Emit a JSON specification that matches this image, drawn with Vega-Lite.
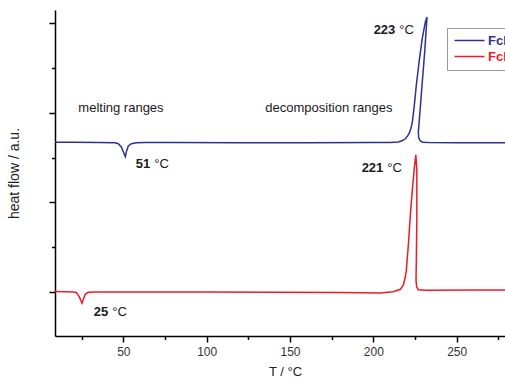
{
  "$schema": "https://vega.github.io/schema/vega-lite/v6.json",
  "autosize": "none",
  "padding": {"left": 55, "top": 10, "right": 0, "bottom": 47},
  "width": 460,
  "height": 326,
  "config": {"view": {"stroke": null}, "font": "Liberation Sans"},
  "datasets": {
    "curves": [
      {"s": "FcI (1)", "i": 1, "T": 9, "v": 3.345},
      {"s": "FcI (1)", "i": 2, "T": 20, "v": 3.345},
      {"s": "FcI (1)", "i": 3, "T": 35, "v": 3.34},
      {"s": "FcI (1)", "i": 4, "T": 45, "v": 3.33},
      {"s": "FcI (1)", "i": 5, "T": 47, "v": 3.31},
      {"s": "FcI (1)", "i": 6, "T": 48.8, "v": 3.24},
      {"s": "FcI (1)", "i": 7, "T": 50, "v": 3.13},
      {"s": "FcI (1)", "i": 8, "T": 51.2, "v": 3.02},
      {"s": "FcI (1)", "i": 9, "T": 51.8, "v": 3.13},
      {"s": "FcI (1)", "i": 10, "T": 53, "v": 3.26},
      {"s": "FcI (1)", "i": 11, "T": 54.8, "v": 3.31},
      {"s": "FcI (1)", "i": 12, "T": 58, "v": 3.33},
      {"s": "FcI (1)", "i": 13, "T": 63, "v": 3.335},
      {"s": "FcI (1)", "i": 14, "T": 80, "v": 3.335},
      {"s": "FcI (1)", "i": 15, "T": 120, "v": 3.33},
      {"s": "FcI (1)", "i": 16, "T": 160, "v": 3.33},
      {"s": "FcI (1)", "i": 17, "T": 200, "v": 3.335},
      {"s": "FcI (1)", "i": 18, "T": 210, "v": 3.34},
      {"s": "FcI (1)", "i": 19, "T": 215, "v": 3.35},
      {"s": "FcI (1)", "i": 20, "T": 217.5, "v": 3.38},
      {"s": "FcI (1)", "i": 21, "T": 219.2, "v": 3.42},
      {"s": "FcI (1)", "i": 22, "T": 220.5, "v": 3.48},
      {"s": "FcI (1)", "i": 23, "T": 221.6, "v": 3.55},
      {"s": "FcI (1)", "i": 24, "T": 222.6, "v": 3.66},
      {"s": "FcI (1)", "i": 25, "T": 223.4, "v": 3.79},
      {"s": "FcI (1)", "i": 26, "T": 224.6, "v": 4.17},
      {"s": "FcI (1)", "i": 27, "T": 225.8, "v": 4.62},
      {"s": "FcI (1)", "i": 28, "T": 227.6, "v": 5.18},
      {"s": "FcI (1)", "i": 29, "T": 229.4, "v": 5.67},
      {"s": "FcI (1)", "i": 30, "T": 231.2, "v": 6.03},
      {"s": "FcI (1)", "i": 31, "T": 232.2, "v": 6.14},
      {"s": "FcI (1)", "i": 32, "T": 230.9, "v": 5.4},
      {"s": "FcI (1)", "i": 33, "T": 229.0, "v": 4.51},
      {"s": "FcI (1)", "i": 34, "T": 227.6, "v": 3.84},
      {"s": "FcI (1)", "i": 35, "T": 227.0, "v": 3.57},
      {"s": "FcI (1)", "i": 36, "T": 227.2, "v": 3.45},
      {"s": "FcI (1)", "i": 37, "T": 228.0, "v": 3.38},
      {"s": "FcI (1)", "i": 38, "T": 229.5, "v": 3.345},
      {"s": "FcI (1)", "i": 39, "T": 233, "v": 3.335},
      {"s": "FcI (1)", "i": 40, "T": 250, "v": 3.33},
      {"s": "FcI (1)", "i": 41, "T": 285, "v": 3.33},
      {"s": "FcI (2)", "i": 1, "T": 9, "v": 0.01},
      {"s": "FcI (2)", "i": 2, "T": 15, "v": 0.005},
      {"s": "FcI (2)", "i": 3, "T": 20, "v": 0.0},
      {"s": "FcI (2)", "i": 4, "T": 21.8, "v": -0.01},
      {"s": "FcI (2)", "i": 5, "T": 23.6, "v": -0.11},
      {"s": "FcI (2)", "i": 6, "T": 25.2, "v": -0.25},
      {"s": "FcI (2)", "i": 7, "T": 26.0, "v": -0.16},
      {"s": "FcI (2)", "i": 8, "T": 27.2, "v": -0.045},
      {"s": "FcI (2)", "i": 9, "T": 29, "v": -0.005},
      {"s": "FcI (2)", "i": 10, "T": 35, "v": 0.0},
      {"s": "FcI (2)", "i": 11, "T": 100, "v": 0.0},
      {"s": "FcI (2)", "i": 12, "T": 180, "v": -0.01},
      {"s": "FcI (2)", "i": 13, "T": 204, "v": -0.02},
      {"s": "FcI (2)", "i": 14, "T": 212, "v": 0.005},
      {"s": "FcI (2)", "i": 15, "T": 216.2, "v": 0.06},
      {"s": "FcI (2)", "i": 16, "T": 218.0, "v": 0.16},
      {"s": "FcI (2)", "i": 17, "T": 219.2, "v": 0.34},
      {"s": "FcI (2)", "i": 18, "T": 219.8, "v": 0.49},
      {"s": "FcI (2)", "i": 19, "T": 221.0, "v": 1.05},
      {"s": "FcI (2)", "i": 20, "T": 222.2, "v": 1.72},
      {"s": "FcI (2)", "i": 21, "T": 223.4, "v": 2.28},
      {"s": "FcI (2)", "i": 22, "T": 224.6, "v": 2.77},
      {"s": "FcI (2)", "i": 23, "T": 225.5, "v": 3.06},
      {"s": "FcI (2)", "i": 24, "T": 226.1, "v": 2.72},
      {"s": "FcI (2)", "i": 25, "T": 226.1, "v": 1.61},
      {"s": "FcI (2)", "i": 26, "T": 225.8, "v": 0.71},
      {"s": "FcI (2)", "i": 27, "T": 225.6, "v": 0.27},
      {"s": "FcI (2)", "i": 28, "T": 226.0, "v": 0.11},
      {"s": "FcI (2)", "i": 29, "T": 227.0, "v": 0.05},
      {"s": "FcI (2)", "i": 30, "T": 231.2, "v": 0.04},
      {"s": "FcI (2)", "i": 31, "T": 260, "v": 0.045},
      {"s": "FcI (2)", "i": 32, "T": 285, "v": 0.045}
    ],
    "ranges": [
      {"T": 23, "v": 4.11, "text": "melting ranges"},
      {"T": 135.2, "v": 4.11, "text": "decomposition ranges"}
    ],
    "temps": [
      {"T": 213.2, "v": 5.85, "num": "223"},
      {"T": 206, "v": 2.77, "num": "221"},
      {"T": 66.2, "v": 2.86, "num": "51"},
      {"T": 41, "v": -0.45, "num": "25"}
    ]
  },
  "encoding": {
    "x": {
      "field": "T", "type": "quantitative", "title": "T / °C",
      "scale": {"domain": [9, 285], "nice": false, "zero": false},
      "axis": {
        "values": [25, 50, 75, 100, 125, 150, 175, 200, 225, 250, 275],
        "labelExpr": "datum.value % 50 === 0 ? datum.label : ''",
        "tickSize": {"condition": {"test": "datum.value % 50 !== 0", "value": 3.5}, "value": 6},
        "grid": false, "domainColor": "#000", "domainWidth": 1.5,
        "tickColor": "#000", "tickWidth": 1.5,
        "labelFontSize": 12, "labelColor": "#333", "labelPadding": 4, "labelFlush": false,
        "titleFontSize": 13, "titleFontWeight": "normal", "titleColor": "#222", "titlePadding": 8
      }
    },
    "y": {
      "field": "v", "type": "quantitative", "title": "heat flow / a.u.",
      "scale": {"domain": [-0.982, 6.295], "nice": false, "zero": false},
      "axis": {
        "values": [0, 1, 2, 3, 4, 5, 6],
        "labels": false,
        "tickSize": {"condition": {"test": "datum.value % 2 === 1", "value": 3.5}, "value": 6},
        "grid": false, "domainColor": "#000", "domainWidth": 1.5,
        "tickColor": "#000", "tickWidth": 1.5,
        "titleFontSize": 14, "titleFontWeight": "normal", "titleColor": "#222", "titlePadding": 27
      }
    }
  },
  "layer": [
    {
      "data": {"name": "curves"},
      "mark": {"type": "line", "strokeWidth": 1.5},
      "encoding": {
        "order": {"field": "i", "type": "quantitative"},
        "color": {
          "field": "s", "type": "nominal",
          "scale": {"domain": ["FcI (1)", "FcI (2)"], "range": ["#2e3192", "#ed1c24"]},
          "legend": {
            "orient": "none", "legendX": 392, "legendY": 18, "title": null,
            "symbolType": "M-1,0H5", "symbolSize": 100, "symbolStrokeWidth": 1.5,
            "labelFontSize": 13, "labelFontWeight": "bold", "labelOffset": 22,
            "labelColor": {"expr": "datum.label === 'FcI (1)' ? '#2e3192' : '#ed1c24'"},
            "strokeColor": "#999", "padding": 6, "rowPadding": 2
          }
        }
      }
    },
    {
      "data": {"name": "ranges"},
      "mark": {"type": "text", "align": "left", "baseline": "middle", "fontSize": 13, "color": "#1a1a1a"},
      "encoding": {"text": {"field": "text"}}
    },
    {
      "data": {"name": "temps"},
      "mark": {"type": "text", "align": "right", "baseline": "middle", "fontSize": 13, "fontWeight": "bold", "color": "#1a1a1a"},
      "encoding": {"text": {"field": "num"}}
    },
    {
      "data": {"name": "temps"},
      "mark": {"type": "text", "align": "left", "baseline": "middle", "fontSize": 13, "dx": 4, "color": "#1a1a1a"},
      "encoding": {"text": {"value": "°C"}}
    }
  ]
}
